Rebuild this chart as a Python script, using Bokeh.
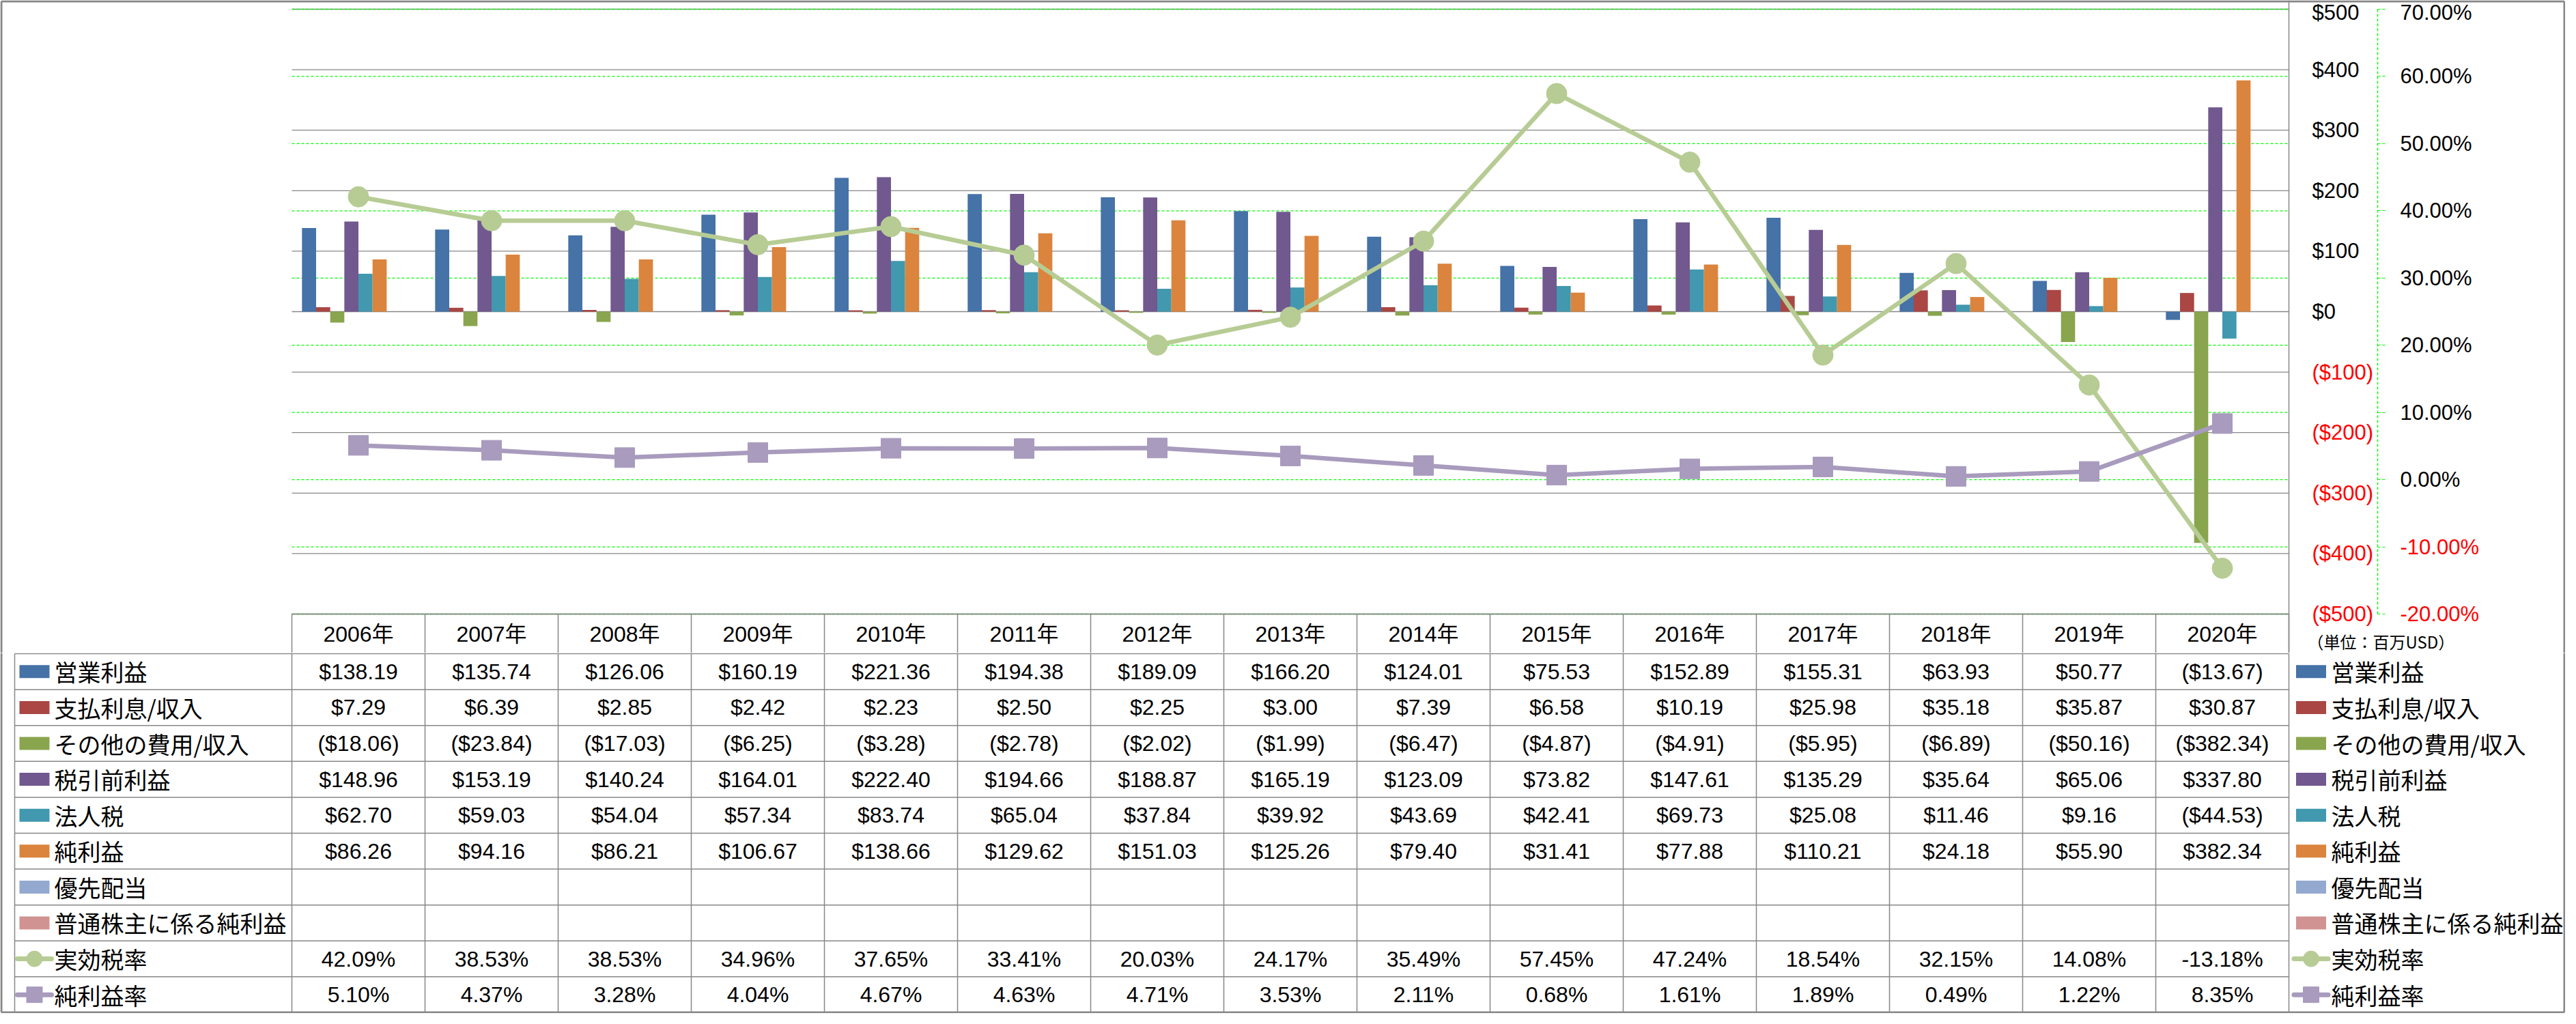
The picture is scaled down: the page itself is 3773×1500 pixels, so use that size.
from bokeh.plotting import figure
from bokeh.models import (ColumnDataSource, Range1d, LinearAxis, FixedTicker)
from bokeh.transform import dodge
from bokeh.layouts import column
from bokeh.core.properties import value
from bokeh.embed import file_html
from bokeh.resources import INLINE

# ---------------------------------------------------------------- data
years = ["2006年", "2007年", "2008年", "2009年", "2010年", "2011年", "2012年",
         "2013年", "2014年", "2015年", "2016年", "2017年", "2018年", "2019年", "2020年"]

operating_income = [138.19, 135.74, 126.06, 160.19, 221.36, 194.38, 189.09, 166.20,
                    124.01, 75.53, 152.89, 155.31, 63.93, 50.77, -13.67]
interest_expense = [7.29, 6.39, 2.85, 2.42, 2.23, 2.50, 2.25, 3.00,
                    7.39, 6.58, 10.19, 25.98, 35.18, 35.87, 30.87]
other_expense = [-18.06, -23.84, -17.03, -6.25, -3.28, -2.78, -2.02, -1.99,
                 -6.47, -4.87, -4.91, -5.95, -6.89, -50.16, -382.34]
pretax_income = [148.96, 153.19, 140.24, 164.01, 222.40, 194.66, 188.87, 165.19,
                 123.09, 73.82, 147.61, 135.29, 35.64, 65.06, 337.80]
income_tax = [62.70, 59.03, 54.04, 57.34, 83.74, 65.04, 37.84, 39.92,
              43.69, 42.41, 69.73, 25.08, 11.46, 9.16, -44.53]
net_income = [86.26, 94.16, 86.21, 106.67, 138.66, 129.62, 151.03, 125.26,
              79.40, 31.41, 77.88, 110.21, 24.18, 55.90, 382.34]
preferred_dividends = [None, None, None, None, None, None, None, None,
                       None, None, None, None, None, None, None]
net_income_common = [None, None, None, None, None, None, None, None,
                     None, None, None, None, None, None, None]
effective_tax_rate = [42.09, 38.53, 38.53, 34.96, 37.65, 33.41, 20.03, 24.17,
                      35.49, 57.45, 47.24, 18.54, 32.15, 14.08, -13.18]
net_margin = [5.10, 4.37, 3.28, 4.04, 4.67, 4.63, 4.71, 3.53,
              2.11, 0.68, 1.61, 1.89, 0.49, 1.22, 8.35]

bar_names = ["営業利益", "支払利息/収入", "その他の費用/収入", "税引前利益",
             "法人税", "純利益", "優先配当", "普通株主に係る純利益"]
line_names = ["実効税率", "純利益率"]

usd_ticks = [-500, -400, -300, -200, -100, 0, 100, 200, 300, 400, 500]
usd_tick_labels = ["($500)", "($400)", "($300)", "($200)", "($100)", "$0",
                   "$100", "$200", "$300", "$400", "$500"]
pct_ticks = [-20, -10, 0, 10, 20, 30, 40, 50, 60, 70]
pct_tick_labels = ["-20.00%", "-10.00%", "0.00%", "10.00%", "20.00%", "30.00%",
                   "40.00%", "50.00%", "60.00%", "70.00%"]
unit_text = "（単位：百万USD）"

# ---------------------------------------------------------------- style
NUM_FONT = "Liberation Sans"
JP_FONT = "Noto Sans CJK JP"
MIX_FONT = "Liberation Sans, Noto Sans CJK JP"
bar_colors = ["#4572A7", "#AA4643", "#89A54E", "#71588F", "#4198AF", "#DB843D",
              "#93A9CF", "#D19392"]
line_colors = ["#B7CC94", "#A89BBD"]
GRAY = "#878787"
GREEN = "#00FF00"
NEG_RED = "#FF0000"

n = len(years)
PX_CAT = 195            # width of one category slot (px)
TOTAL_W = 3757
TOTAL_H = 1484
LEFT = 427              # plot-area left edge (px from canvas left)
TOP = 13                # plot-area top edge
PLOT_H = 886            # plot-area height
HEADER_PX = 57          # height of the table header row (years)
CHART_H = TOP + PLOT_H + HEADER_PX
TABLE_H = TOTAL_H - CHART_H
BAR_W = 0.106
AX1_STANDOFF = 34
AX2_PX = 130
AX2_TICK = 11
AX2_STANDOFF = 22
AXIS_FONT = "31px"
NUM_SIZE = "32px"
JP_SIZE = "34px"
BORDER_W = 3


def nan(v):
    return float("nan") if v is None else v


centers = [i + 0.5 for i in range(n)]          # category slot centres
bounds = list(range(n + 1))                     # category slot boundaries

bar_series = [operating_income, interest_expense, other_expense, pretax_income,
              income_tax, net_income, preferred_dividends, net_income_common]
data = {"xi": centers, "year": years, "etr": effective_tax_rate, "npm": net_margin}
for k, s in enumerate(bar_series):
    data[f"s{k}"] = [nan(v) for v in s]
src = ColumnDataSource(data)


def padded_range(ticks):
    span = ticks[-1] - ticks[0]
    per_px = span / PLOT_H
    return Range1d(ticks[0] - HEADER_PX * per_px, ticks[-1] + TOP * per_px)


x_range = Range1d(-LEFT / PX_CAT, (TOTAL_W - LEFT) / PX_CAT)
bx = (BORDER_W / 2) / PX_CAT
x_left_edge = x_range.start + bx
x_right_edge = x_range.end - bx

# ---------------------------------------------------------------- chart
usd_range = padded_range(usd_ticks)
p = figure(x_range=x_range, y_range=usd_range,
           frame_width=TOTAL_W, frame_height=CHART_H, min_border=0,
           x_axis_location=None, y_axis_location=None,
           output_backend="svg", toolbar_location=None,
           outline_line_color=None, background_fill_color="white",
           border_fill_color="white", frame_align=False)
p.extra_y_ranges = {"pct": padded_range(pct_ticks)}
p.grid.visible = False

# outer frame of the chart object (top + sides)
usd_per_px = (usd_ticks[-1] - usd_ticks[0]) / PLOT_H
y_top_edge = usd_range.end - (BORDER_W / 2) * usd_per_px
p.multi_line(xs=[[x_left_edge, x_right_edge], [x_left_edge, x_left_edge],
                 [x_right_edge, x_right_edge]],
             ys=[[y_top_edge, y_top_edge], [usd_range.start, y_top_edge],
                 [usd_range.start, y_top_edge]],
             line_color=GRAY, line_width=BORDER_W)

# grid lines of both value axes, over the plot area only
p.segment(x0=0, x1=n, y0=usd_ticks, y1=usd_ticks, line_color=GRAY, line_width=1.3)
p.segment(x0=0, x1=n, y0=pct_ticks, y1=pct_ticks, y_range_name="pct",
          line_color=GREEN, line_width=1.3, line_dash="4 3")

for k in range(len(bar_series)):
    off = (k - (len(bar_series) - 1) / 2) * BAR_W
    p.vbar(x=dodge("xi", off), top=f"s{k}", bottom=0,
           width=BAR_W, source=src, fill_color=bar_colors[k], line_color=None)

p.line(x="xi", y="etr", source=src, y_range_name="pct",
       line_color=line_colors[0], line_width=6.5)
p.scatter(x="xi", y="etr", source=src, y_range_name="pct", marker="circle",
          size=30, fill_color=line_colors[0], line_color=line_colors[0])
p.line(x="xi", y="npm", source=src, y_range_name="pct",
       line_color=line_colors[1], line_width=6.5)
p.scatter(x="xi", y="npm", source=src, y_range_name="pct", marker="square",
          size=29, fill_color=line_colors[1], line_color=line_colors[1])

# category axis = header row of the data table
xax = LinearAxis(fixed_location=usd_ticks[0], bounds=(0, n),
                 ticker=FixedTicker(ticks=centers, minor_ticks=bounds),
                 major_label_overrides=dict(zip(centers, years)),
                 axis_line_color=GRAY, axis_line_width=1.5,
                 major_tick_out=0, major_tick_in=0, major_tick_line_color=None,
                 minor_tick_out=HEADER_PX, minor_tick_in=0,
                 minor_tick_line_color=GRAY, minor_tick_line_width=1.5,
                 major_label_standoff=-46, major_label_text_font=MIX_FONT,
                 major_label_text_font_size=NUM_SIZE, major_label_text_color="black")
p.add_layout(xax, "below")


def value_axis(loc, pairs, color, range_name, line_color, tick_out, standoff,
               minor=None, tick_color=None, bnds="auto"):
    ticks = [t for t, _ in pairs]
    return LinearAxis(fixed_location=loc, y_range_name=range_name, bounds=bnds,
                      ticker=FixedTicker(ticks=ticks, minor_ticks=minor or []),
                      major_label_overrides=dict(pairs),
                      axis_line_color=line_color, axis_line_width=1.5,
                      axis_line_dash="solid" if line_color == GRAY else "4 3",
                      major_tick_out=tick_out, major_tick_in=0,
                      major_tick_line_color=tick_color, major_tick_line_dash="4 3",
                      minor_tick_out=tick_out, minor_tick_in=0,
                      minor_tick_line_color=tick_color, minor_tick_line_dash="4 3",
                      major_label_standoff=standoff, major_label_text_font=NUM_FONT,
                      major_label_text_font_size=AXIS_FONT, major_label_text_color=color)


usd_pos = [(t, l) for t, l in zip(usd_ticks, usd_tick_labels) if t >= 0]
usd_neg = [(t, l) for t, l in zip(usd_ticks, usd_tick_labels) if t < 0]
pct_pos = [(t, l) for t, l in zip(pct_ticks, pct_tick_labels) if t >= 0]
pct_neg = [(t, l) for t, l in zip(pct_ticks, pct_tick_labels) if t < 0]
pct_bounds = (pct_ticks[0], pct_ticks[-1])

ax2_loc = n + AX2_PX / PX_CAT
for ax in [
    value_axis(n, usd_pos, "black", "default", GRAY, 0, AX1_STANDOFF),
    value_axis(n, usd_neg, NEG_RED, "default", None, 0, AX1_STANDOFF),
    value_axis(ax2_loc, pct_pos, "black", "pct", GREEN, AX2_TICK, AX2_STANDOFF,
               minor=pct_ticks, tick_color=GREEN, bnds=pct_bounds),
    value_axis(ax2_loc, pct_neg, NEG_RED, "pct", None, AX2_TICK, AX2_STANDOFF,
               bnds=pct_bounds),
]:
    p.add_layout(ax, "right")

# unit note under the value axes
p.text(x=[n], y=[usd_ticks[0]], x_offset=27, y_offset=40, text=[unit_text],
       text_align="left", text_baseline="middle", text_font=value(JP_FONT),
       text_font_size="24px", text_color="black")

# ---------------------------------------------------------------- table
row_series = bar_series + [effective_tax_rate, net_margin]
row_names = bar_names + line_names
n_rows = len(row_series)
PAD = 0.02


def fmt(v, is_pct):
    if is_pct:
        return f"{v:.2f}%"
    return f"${v:,.2f}" if v >= 0 else f"(${-v:,.2f})"


t_range = Range1d(n_rows + PAD, -PAD)
t = figure(x_range=x_range, y_range=t_range,
           frame_width=TOTAL_W, frame_height=TABLE_H, min_border=0,
           x_axis_location=None, y_axis_location=None,
           output_backend="svg", toolbar_location=None,
           outline_line_color=None, background_fill_color="white",
           border_fill_color="white", frame_align=False)
t.grid.visible = False

# outer frame of the chart object (bottom + sides)
row_per_px = (n_rows + 2 * PAD) / TABLE_H
y_bot_edge = t_range.start - (BORDER_W / 2) * row_per_px
t.multi_line(xs=[[x_left_edge, x_right_edge], [x_left_edge, x_left_edge],
                 [x_right_edge, x_right_edge]],
             ys=[[y_bot_edge, y_bot_edge], [t_range.end, y_bot_edge],
                 [t_range.end, y_bot_edge]],
             line_color=GRAY, line_width=BORDER_W)

TBL_L = (21 - LEFT) / PX_CAT
t.multi_line(xs=[[TBL_L, n] for r in range(n_rows + 1)],
             ys=[[r, r] for r in range(n_rows + 1)],
             line_color=GRAY, line_width=1.5)
vx = [TBL_L] + bounds
t.multi_line(xs=[[x, x] for x in vx], ys=[[0, n_rows] for x in vx],
             line_color=GRAY, line_width=1.5)

tx, ty, tt = [], [], []
for r, s in enumerate(row_series):
    is_pct = r >= len(bar_series)
    for i, v in enumerate(s):
        if v is None:
            continue
        tx.append(centers[i])
        ty.append(r + 0.5)
        tt.append(fmt(v, is_pct))
t.text(x=tx, y=ty, text=tt, text_align="center", text_baseline="middle",
       text_font=value(NUM_FONT), text_font_size=NUM_SIZE, text_color="black")

# legend keys (left and right)
KEY_L = (50 - LEFT) / PX_CAT
TXT_L = (79 - LEFT) / PX_CAT
KEY_R = (3384.5 - LEFT) / PX_CAT
TXT_R = (3414 - LEFT) / PX_CAT
nb = len(bar_series)
for kx, txx in ((KEY_L, TXT_L), (KEY_R, TXT_R)):
    t.rect(x=[kx] * nb, y=[r + 0.5 for r in range(nb)], width=44, height=19,
           width_units="screen", height_units="screen",
           fill_color=bar_colors, line_color=None)
    for j, (mk, col) in enumerate(zip(["circle", "square"], line_colors)):
        yy = nb + j + 0.5
        t.segment(x0=[kx - 25 / PX_CAT], x1=[kx + 25 / PX_CAT], y0=[yy], y1=[yy],
                  line_color=col, line_width=7, line_cap="round")
        t.scatter(x=[kx], y=[yy], marker=mk, size=23, fill_color=col, line_color=col)
    t.text(x=[txx] * n_rows, y=[r + 0.5 for r in range(n_rows)], text=row_names,
           text_align="left", text_baseline="middle", text_font=value(JP_FONT),
           text_font_size=JP_SIZE, text_color="black")

layout = column(p, t, spacing=0)
open("out.html", "w").write(file_html(layout, INLINE))
